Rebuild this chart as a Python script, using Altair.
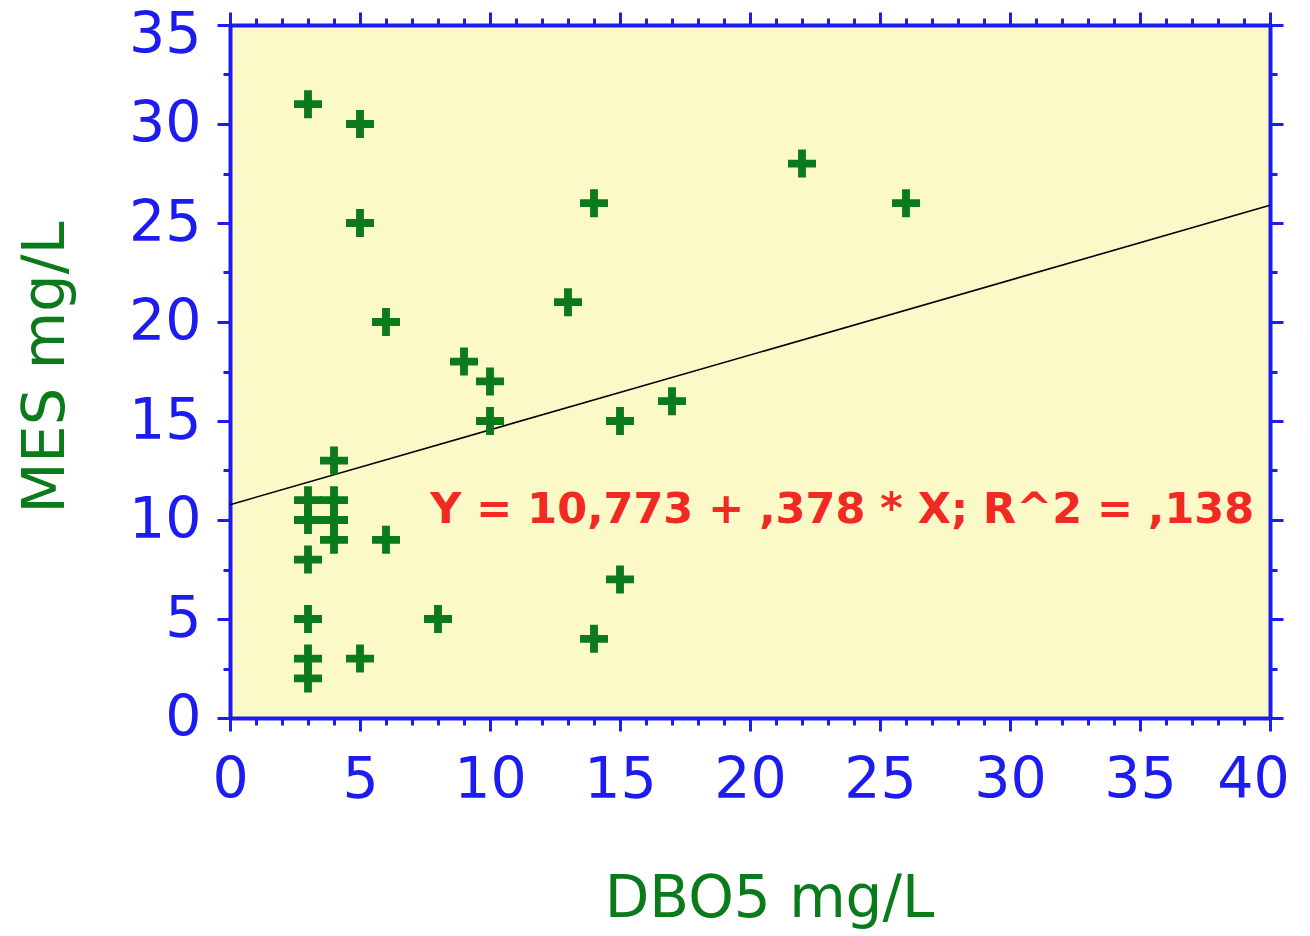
import altair as alt
import pandas as pd

# ---- data ----
dbo5 = [3, 5, 5, 6, 9, 10, 10, 13, 14, 15, 17, 22, 26,
        4, 3, 4, 3, 4, 4, 6, 3, 3, 8, 15, 14, 3, 5, 3]
mes = [31, 30, 25, 20, 18, 17, 15, 21, 26, 15, 16, 28, 26,
       13, 11, 11, 10, 10, 9, 9, 8, 5, 5, 7, 4, 3, 3, 2]

intercept = 10.773
slope = 0.378
fit_x = [0, 40]
annotation = "Y = 10,773 + ,378 * X; R^2 = ,138"

x_major = list(range(0, 41, 5))
x_minor = list(range(0, 41, 1))
y_major = list(range(0, 36, 5))
y_minor = [v * 2.5 for v in range(0, 15)]

pts = pd.DataFrame({"x": dbo5, "y": mes})
fit = pd.DataFrame({"x": fit_x, "y": [intercept + slope * v for v in fit_x]})
ann = pd.DataFrame({"x": [7.7], "y": [9.85], "t": [annotation]})

BLUE = "#1c1cf0"
GREEN = "#0a7a1a"
RED = "#f02a22"
FONT = "DejaVu Sans"
CROSS = "M-1,-0.28H-0.28V-1H0.28V-0.28H1V0.28H0.28V1H-0.28V0.28H-1Z"

xs = alt.Scale(domain=[0, 40], nice=False, zero=False)
ys = alt.Scale(domain=[0, 35], nice=False, zero=False)


def ax(orient, values, tick, labels=False, domain=False, **kw):
    return alt.Axis(orient=orient, values=values, tickSize=tick, tickWidth=3,
                    tickColor=BLUE, labels=labels, domain=domain,
                    domainColor=BLUE, domainWidth=4, grid=False, **kw)


LAB = dict(labelFont=FONT, labelFontSize=57, labelColor=BLUE, labelFlush=False,
           labelOverlap=False)

bottom_major = ax("bottom", x_major[:-1], 13, labels=True, domain=True,
                  labelPadding=21, labelBaseline="top", **LAB,
                  title="DBO5 mg/L", titleFont=FONT, titleFontSize=58,
                  titleFontWeight="normal", titleColor=GREEN,
                  titleX=539, titleY=198, titleAlign="center",
                  titleBaseline="alphabetic", titleAngle=0)
left_major = ax("left", y_major[:-1], 13, labels=True, domain=True,
                labelPadding=16, labelBaseline="middle", **LAB,
                title="MES mg/L", titleFont=FONT, titleFontSize=59,
                titleFontWeight="normal", titleColor=GREEN,
                titleX=-167, titleY=342, titleAlign="center",
                titleBaseline="alphabetic", titleAngle=270)

points = alt.Chart(pts).mark_point(shape=CROSS, filled=True, size=784,
                                   color=GREEN, opacity=1).encode(
    x=alt.X("x:Q", scale=xs, axis=bottom_major),
    y=alt.Y("y:Q", scale=ys, axis=left_major),
)

line = alt.Chart(fit).mark_line(color="black", strokeWidth=1.6).encode(
    x=alt.X("x:Q", scale=xs, axis=ax("bottom", x_minor, 7, title=None)),
    y=alt.Y("y:Q", scale=ys, axis=ax("left", y_minor, 7, title=None)),
)

text = alt.Chart(ann).mark_text(align="left", baseline="alphabetic",
                                font=FONT, fontSize=43, fontWeight="bold",
                                color=RED).encode(
    x=alt.X("x:Q", scale=xs, axis=ax("top", x_major, 13, domain=True, title=None)),
    y=alt.Y("y:Q", scale=ys, axis=ax("right", y_major, 13, domain=True, title=None)),
    text="t:N",
)

ghost = alt.Chart(pts).mark_point(opacity=0).encode(
    x=alt.X("x:Q", scale=xs, axis=ax("top", x_minor, 7, title=None)),
    y=alt.Y("y:Q", scale=ys, axis=ax("right", y_minor, 7, title=None)),
)

# end labels (40 and 35), nudged inward as in the reference
ends = alt.Chart(pts).mark_point(opacity=0).encode(
    x=alt.X("x:Q", scale=xs,
            axis=ax("bottom", x_major[-1:], 13, labels=True, title=None,
                    labelPadding=21, labelBaseline="top", labelOffset=-17, **LAB)),
    y=alt.Y("y:Q", scale=ys,
            axis=ax("left", y_major[-1:], 13, labels=True, title=None,
                    labelPadding=16, labelBaseline="middle", labelOffset=10, **LAB)),
)

chart = alt.layer(line, points, text, ghost, ends).resolve_scale(
    x="shared", y="shared"
).resolve_axis(
    x="independent", y="independent"
).properties(
    width=1040, height=693,
    autosize=alt.AutoSizeParams(type="none"),
    padding={"left": 222, "top": 17, "right": 32, "bottom": 211},
    background="white",
).configure_view(fill="#fcf9c9", stroke=None)

chart.save("out.html", embed_options={"renderer": "svg", "actions": False})
